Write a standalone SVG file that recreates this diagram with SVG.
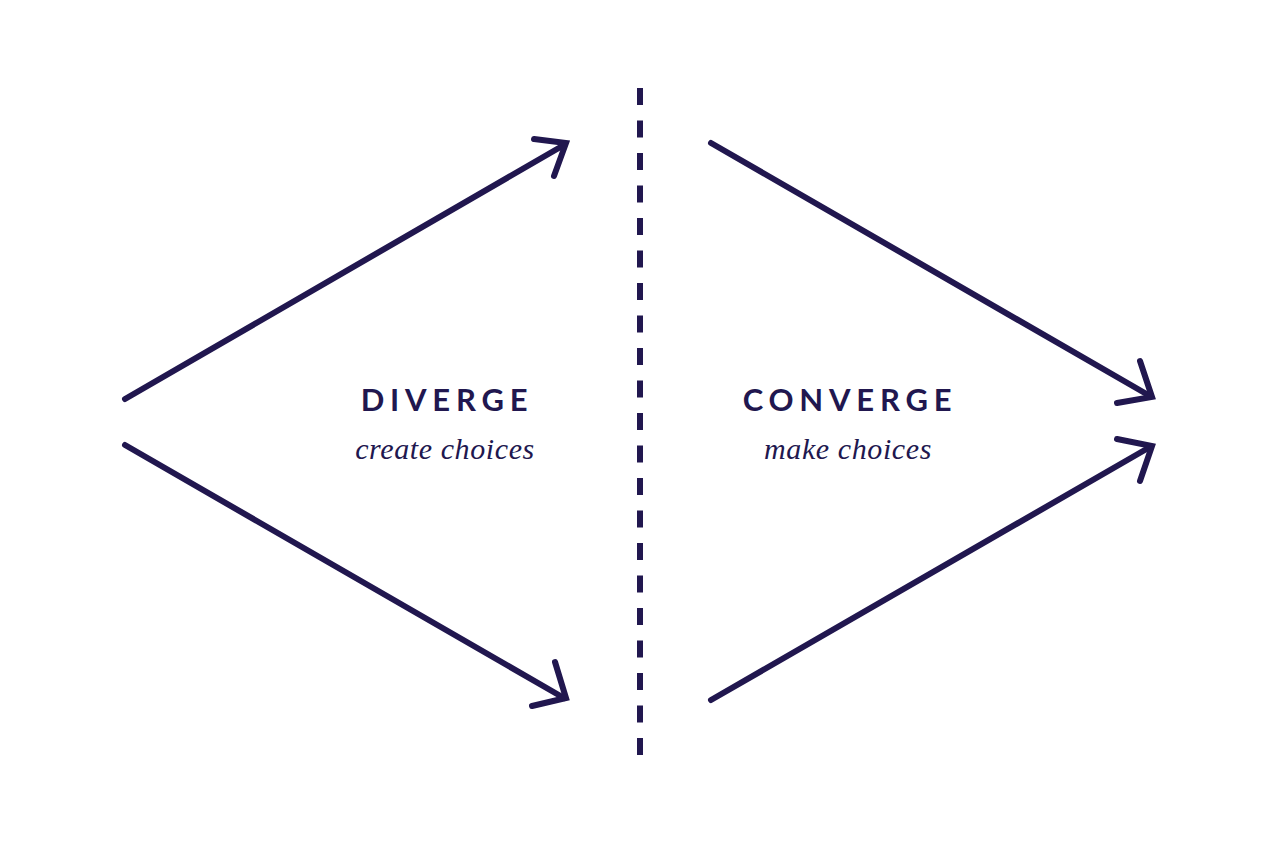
<svg xmlns="http://www.w3.org/2000/svg" width="1280" height="853" viewBox="0 0 1280 853">
<style>
.ln{fill:none;stroke:#21174f;stroke-width:6;stroke-linecap:round;stroke-linejoin:miter}
.h{font-family:"Lato","Liberation Sans",sans-serif;font-weight:bold;font-size:31px;letter-spacing:5.8px;fill:#21174f;text-anchor:middle}
.s{font-family:"Liberation Serif",serif;font-style:italic;font-size:30px;letter-spacing:0.6px;fill:#21174f;text-anchor:middle}
</style>
<rect width="1280" height="853" fill="#ffffff"/>
<g id="divider">
<line x1="640" y1="88" x2="640" y2="755" stroke="#21174f" stroke-width="6" stroke-dasharray="17 15.5"/>
</g>
<g id="connectors">
<path class="ln" d="M125,399 L564,145"/>
<path class="ln" d="M534,139 L566,143 L554,176" stroke-linecap="butt"/>
<path class="ln" d="M125,445 L564,698"/>
<path class="ln" d="M555,662 L566,698 L532,706" stroke-linecap="butt"/>
<path class="ln" d="M711,143 L1150,396"/>
<path class="ln" d="M1140,361 L1152,397 L1117,403" stroke-linecap="butt"/>
<path class="ln" d="M711,700 L1150,447"/>
<path class="ln" d="M1117,439 L1152,446 L1140,481" stroke-linecap="butt"/>
</g>
<g id="diverge">
<text class="h" x="447" y="411">DIVERGE</text>
<text class="s" x="445" y="459">create choices</text>
</g>
<g id="converge">
<text class="h" x="850" y="411">CONVERGE</text>
<text class="s" x="848" y="459">make choices</text>
</g>
</svg>
